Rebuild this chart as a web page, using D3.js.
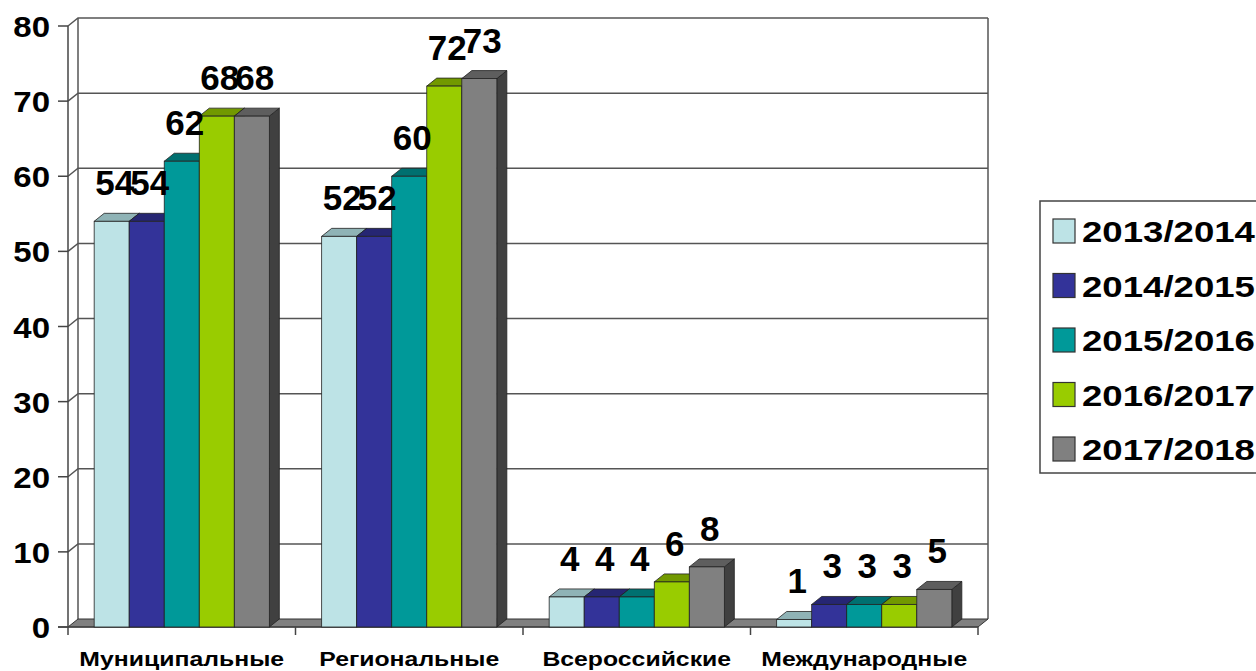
<!DOCTYPE html>
<html>
<head>
<meta charset="utf-8">
<script src="https://cdnjs.cloudflare.com/ajax/libs/d3/7.8.5/d3.min.js"></script>
<style>
  html, body { margin:0; padding:0; background:#fff; }
  text { font-family: Arial, "Liberation Sans", sans-serif; font-weight:bold; fill:#000; }
</style>
</head>
<body>
<div id="chart"></div>
<script>
var categories = ['Муниципальные','Региональные','Всероссийские','Международные'];
var seasons = ['2013/2014','2014/2015','2015/2016','2016/2017','2017/2018'];
var v1314 = [54, 52, 4, 1];
var v1415 = [54, 52, 4, 3];
var v1516 = [62, 60, 4, 3];
var v1617 = [68, 72, 6, 3];
var v1718 = [68, 73, 8, 5];
var yTicks = [0,10,20,30,40,50,60,70,80];

var seriesVals = [v1314, v1415, v1516, v1617, v1718];
var front = ['#bde3e6','#333399','#009999','#99cc00','#808080'],
	topc  = ['#8fb3b6','#262673','#007070','#729900','#5e5e5e'],
	sidec = ['#6f8e90','#1c1c55','#005555','#557300','#404040'];

var W = 1256, H = 671,
	dx = 10, dy = 8,
	x0 = 68, x1 = 978;

var svg = d3.select('#chart').append('svg').attr('width',W).attr('height',H);

var y = d3.scaleLinear().domain([0,80]).range([627,26]);
var xc = d3.scaleBand().domain(categories).range([x0,x1]).paddingInner(0.23).paddingOuter(0.115);
var xs = d3.scaleBand().domain(d3.range(seasons.length)).range([0,xc.bandwidth()]);

// walls
var wall = svg.append('g');
wall.selectAll('.grid')
	.data(yTicks.filter(function(d){ return d>0; }))
	.enter()
	.append('polyline')
		.attr('points',function(d){ return [x0,y(d),x0+dx,y(d)-dy,x1+dx,y(d)-dy].join(','); })
		.attr('fill','none').attr('stroke','#555').attr('stroke-width',1.5);
wall.append('line').attr('x1',x0+dx).attr('x2',x0+dx).attr('y1',y(80)-dy).attr('y2',y(0)-dy).attr('stroke','#555').attr('stroke-width',1.5);
wall.append('line').attr('x1',x1+dx).attr('x2',x1+dx).attr('y1',y(80)-dy).attr('y2',y(0)-dy).attr('stroke','#555').attr('stroke-width',1.5);

// floor
wall.append('polygon')
	.attr('points',[x0,y(0),x0+dx,y(0)-dy,x1+dx,y(0)-dy,x1,y(0)].join(','))
	.attr('fill','#808080').attr('stroke','#333').attr('stroke-width',1);

// y axis
var ax = svg.append('g');
ax.append('line').attr('x1',x0).attr('x2',x0).attr('y1',y(80)).attr('y2',y(0)).attr('stroke','#444').attr('stroke-width',1.5);
ax.selectAll('.tk')
	.data(yTicks)
	.enter()
	.append('line')
		.attr('x1',x0-10).attr('x2',x0)
		.attr('y1',function(d){ return y(d); }).attr('y2',function(d){ return y(d); })
		.attr('stroke','#444').attr('stroke-width',1.5);
ax.selectAll('.tl')
	.data(yTicks)
	.enter()
	.append('text')
		.attr('transform',function(d){ return 'translate(50,'+(y(d)+11)+') scale(1.1,1)'; })
		.attr('text-anchor','end')
		.style('font-size','30px')
		.text(function(d){ return d; });

// x axis
ax.append('line').attr('x1',x0-10).attr('x2',x1).attr('y1',y(0)).attr('y2',y(0)).attr('stroke','#444').attr('stroke-width',1.5);
var bounds = categories.map(function(c){ return xc(c)-xc.step()*xc.paddingInner()/2; });
bounds[0] = x0; bounds.push(x1);
ax.selectAll('.xt')
	.data(bounds)
	.enter()
	.append('line')
		.attr('x1',function(d){ return d; }).attr('x2',function(d){ return d; })
		.attr('y1',y(0)).attr('y2',y(0)+8)
		.attr('stroke','#444').attr('stroke-width',1.5);
ax.selectAll('.xl')
	.data(categories)
	.enter()
	.append('text')
		.attr('transform',function(d){ return 'translate('+(xc(d)+xc.bandwidth()/2)+',666) scale(1.24,1)'; })
		.attr('text-anchor','middle')
		.style('font-size','20px')
		.text(function(d){ return d; });

// bars
var bars = svg.append('g');
categories.forEach(function(c,ci){
	seriesVals.forEach(function(vals,si){
		var v = vals[ci],
			bx = xc(c)+xs(si),
			bw = xs.bandwidth(),
			yt = y(v), yb = y(0);
		var g = bars.append('g');
		g.append('polygon')
			.attr('points',[bx+bw,yt,bx+bw+dx,yt-dy,bx+bw+dx,yb-dy,bx+bw,yb].join(','))
			.attr('fill',sidec[si]).attr('stroke','#222').attr('stroke-width',0.8);
		g.append('polygon')
			.attr('points',[bx,yt,bx+dx,yt-dy,bx+bw+dx,yt-dy,bx+bw,yt].join(','))
			.attr('fill',topc[si]).attr('stroke','#222').attr('stroke-width',0.8);
		g.append('rect')
			.attr('x',bx).attr('y',yt).attr('width',bw).attr('height',yb-yt)
			.attr('fill',front[si]).attr('stroke','#222').attr('stroke-width',0.8);
	});
});

// value labels
var labs = svg.append('g');
categories.forEach(function(c,ci){
	seriesVals.forEach(function(vals,si){
		var v = vals[ci];
		labs.append('text')
			.attr('x',xc(c)+xs(si)+xs.bandwidth()/2+3)
			.attr('y',y(v)-26)
			.attr('text-anchor','middle')
			.style('font-size','35px')
			.text(v);
	});
});

// legend
var leg = svg.append('g');
leg.append('rect').attr('x',1040).attr('y',201).attr('width',240).attr('height',272)
	.attr('fill','#fff').attr('stroke','#444').attr('stroke-width',1.5);
var li = leg.selectAll('.li')
	.data(seasons)
	.enter()
	.append('g')
		.attr('transform',function(d,i){ return 'translate(1053,'+(231+i*54.5)+')'; });
li.append('rect').attr('x',0).attr('y',-12).attr('width',22).attr('height',24)
	.attr('fill',function(d,i){ return front[i]; }).attr('stroke','#333').attr('stroke-width',1.2);
li.append('text')
	.attr('transform','translate(29,11) scale(1.22,1)')
	.style('font-size','30px')
	.text(function(d){ return d; });
</script>
</body>
</html>
